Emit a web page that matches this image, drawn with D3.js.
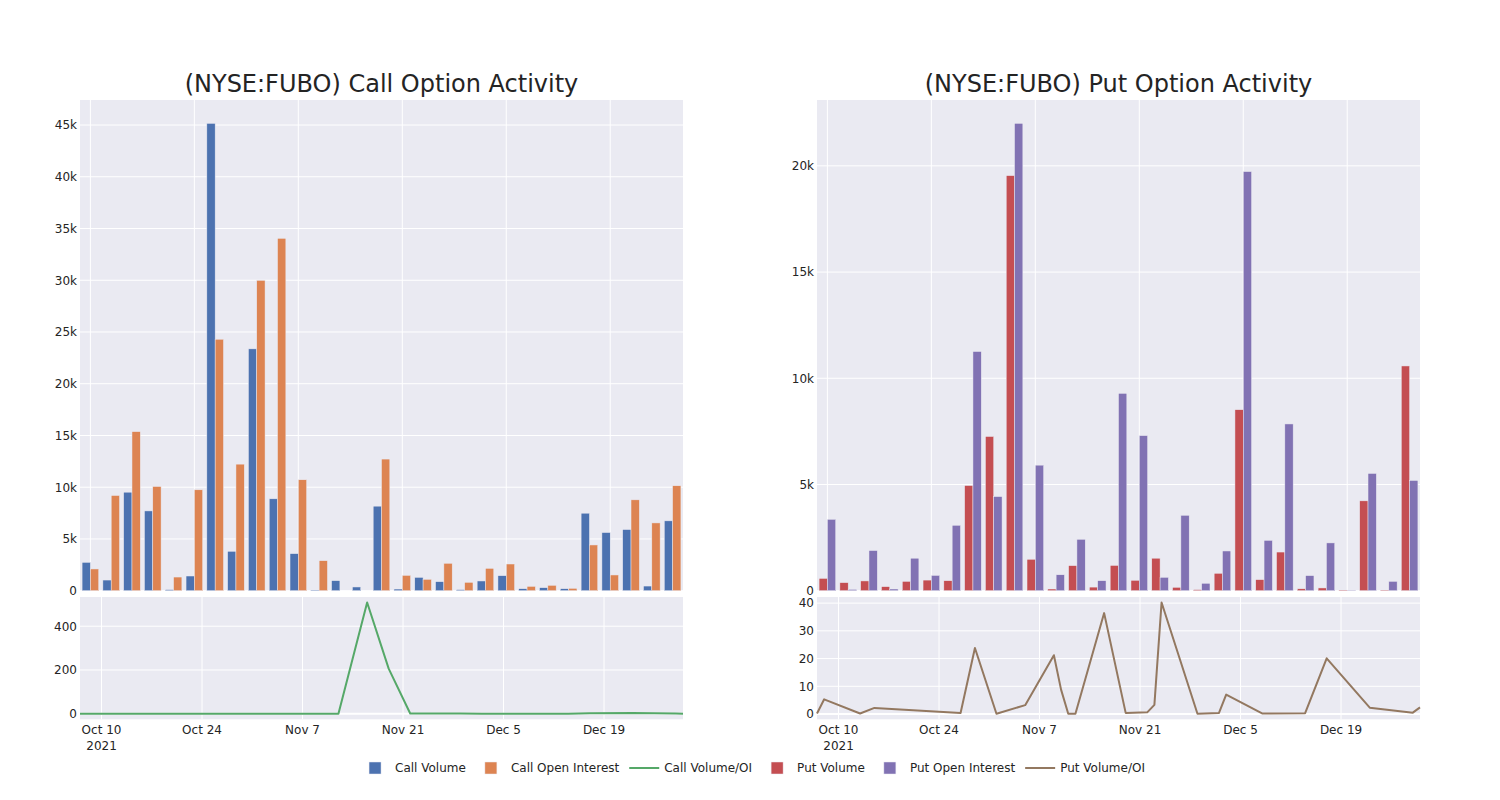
<!DOCTYPE html>
<html>
<head>
<meta charset="utf-8">
<script src="https://cdn.jsdelivr.net/npm/d3@7"></script>
<style>
  html, body { margin: 0; padding: 0; background: #fff; }
  svg { display: block; }
  text { font-family: "DejaVu Sans", Verdana, sans-serif; fill: rgb(36,36,36); }
</style>
</head>
<body>
<svg id="chart" width="1500" height="800"></svg>
<script>
// ---------------- DATA ----------------
const barCategories = ["1","2","3","4","5","6","7","8","9","10","11","12","13","14","15",
                       "16","17","18","19","20","21","22","23","24","25","26","27","28","29"];
const callVolume = [2740, 1030, 9520, 7710, 100, 1420, 45160, 3810, 23370, 8880, 3580, 60, 970, 360, 8170,
                    160, 1290, 870, 100, 940, 1450, 190, 290, 190, 7490, 5620, 5910, 450, 6750];
const callOpenInterest = [2100, 9200, 15370, 10070, 1320, 9750, 24300, 12230, 29990, 34050, 10720, 2900, 0, 0, 12720,
                          1480, 1100, 2650, 810, 2160, 2580, 420, 520, 230, 4420, 1520, 8780, 6550, 10140];
const putVolume = [580, 380, 460, 190, 440, 500, 470, 4950, 7260, 19540, 1480, 80, 1180, 170, 1190,
                   490, 1530, 160, 50, 820, 8520, 520, 1820, 90, 130, 30, 4230, 30, 10580];
const putOpenInterest = [3360, 60, 1890, 80, 1530, 720, 3080, 11260, 4430, 22000, 5910, 750, 2420, 470, 9290,
                         7300, 630, 3550, 350, 1870, 19730, 2370, 7850, 710, 2250, 20, 5520, 440, 5190];

const lineDates = ["2021-10-07","2021-10-08","2021-10-13","2021-10-15","2021-10-27","2021-10-29",
                   "2021-11-01","2021-11-05","2021-11-09","2021-11-10","2021-11-11","2021-11-12",
                   "2021-11-16","2021-11-19","2021-11-22","2021-11-23","2021-11-24","2021-11-29",
                   "2021-12-02","2021-12-03","2021-12-08","2021-12-14","2021-12-17","2021-12-23",
                   "2021-12-29","2021-12-30"];
const callVolOI = [0.5, 0.5, 0.3, 0.4, 0.2, 0.3, 0.2, 0.3, 0.2, 0.3, 0.2, 0.4,
                   508, 206, 1.5, 1.2, 1.0, 0.8, 0.6, 0.5, 0.4, 0.5, 2.5, 4.0, 0.8, 0.5];
const putVolOI = [0.2, 5.3, 0.2, 2.2, 0.4, 23.8, 0.1, 3.2, 21.2, 8.8, 0.1, 0.1,
                  36.4, 0.4, 0.6, 3.3, 40.2, 0.1, 0.4, 7.0, 0.2, 0.3, 20.1, 2.3, 0.5, 2.4];

const xTickDates = ["2021-10-10","2021-10-24","2021-11-07","2021-11-21","2021-12-05","2021-12-19"];
const titles = ["(NYSE:FUBO) Call Option Activity", "(NYSE:FUBO) Put Option Activity"];
const legendItems = [
  {name: "Call Volume", type: "bar", color: "rgb(76,114,176)"},
  {name: "Call Open Interest", type: "bar", color: "rgb(221,132,82)"},
  {name: "Call Volume/OI", type: "line", color: "rgb(85,168,104)"},
  {name: "Put Volume", type: "bar", color: "rgb(196,78,82)"},
  {name: "Put Open Interest", type: "bar", color: "rgb(129,114,179)"},
  {name: "Put Volume/OI", type: "line", color: "rgb(147,120,96)"}
];

// ---------------- LAYOUT ----------------
const svg = d3.select("#chart");
const BG = "rgb(234,234,242)";
const parse = d3.timeParse("%Y-%m-%d");
const fmtMonthDay = d3.timeFormat("%b %-d");

const panels = [
  {left: 80, right: 683, vol: callVolume, oi: callOpenInterest, ratio: callVolOI,
   barTickCount: 8, lineTickCount: 3,
   colors: ["rgb(76,114,176)", "rgb(221,132,82)"], lineColor: "rgb(85,168,104)", title: titles[0]},
  {left: 817, right: 1420, vol: putVolume, oi: putOpenInterest, ratio: putVolOI,
   barTickCount: 5, lineTickCount: 4,
   colors: ["rgb(196,78,82)", "rgb(129,114,179)"], lineColor: "rgb(147,120,96)", title: titles[1]}
];
const topY = [100, 590.7];
const botY = [597, 719.3];

panels.forEach(p => {
  const g = svg.append("g");

  // title
  g.append("text")
    .attr("x", (p.left + p.right) / 2).attr("y", 92)
    .attr("text-anchor", "middle").style("font-size", "24px")
    .text(p.title);

  // ---- bar subplot ----
  g.append("rect").attr("x", p.left).attr("y", topY[0])
    .attr("width", p.right - p.left).attr("height", topY[1] - topY[0]).attr("fill", BG);

  const xBand = d3.scaleBand().domain(barCategories).range([p.left, p.right]).paddingInner(0).paddingOuter(0);
  const inner = d3.scaleBand().domain([0, 1]).range([0, xBand.bandwidth() * 0.8]);
  const maxBar = d3.max(p.vol.concat(p.oi));
  const yBar = d3.scaleLinear().domain([0, maxBar * 1.05]).range([topY[1], topY[0]]);

  // grid
  const yBarTicks = yBar.ticks(p.barTickCount).filter(t => t <= yBar.domain()[1]);
  g.append("g").selectAll("line").data(yBarTicks).join("line")
    .attr("x1", p.left).attr("x2", p.right)
    .attr("y1", d => yBar(d)).attr("y2", d => yBar(d))
    .attr("stroke", "#fff").attr("stroke-width", 1);
  const gridCats = barCategories.filter((c, i) => i % 5 === 0);
  g.append("g").selectAll("line").data(gridCats).join("line")
    .attr("x1", d => xBand(d) + xBand.bandwidth() / 2).attr("x2", d => xBand(d) + xBand.bandwidth() / 2)
    .attr("y1", topY[0]).attr("y2", topY[1])
    .attr("stroke", "#fff").attr("stroke-width", 1);

  // bars
  const series = [p.vol, p.oi];
  series.forEach((vals, si) => {
    g.append("g").selectAll("rect").data(vals).join("rect")
      .attr("x", (d, i) => xBand(barCategories[i]) + xBand.bandwidth() * 0.1 + inner(si))
      .attr("width", inner.bandwidth())
      .attr("y", d => yBar(d))
      .attr("height", d => yBar(0) - yBar(d))
      .attr("fill", p.colors[si])
      .attr("stroke", BG).attr("stroke-width", 0.5);
  });

  // y axis labels
  const fmtK = d3.format("~s");
  g.append("g").selectAll("text").data(yBarTicks).join("text")
    .attr("x", p.left - 3).attr("y", d => yBar(d)).attr("dy", "0.36em")
    .attr("text-anchor", "end").style("font-size", "12px")
    .text(d => d === 0 ? "0" : fmtK(d));

  // ---- line subplot ----
  g.append("rect").attr("x", p.left).attr("y", botY[0])
    .attr("width", p.right - p.left).attr("height", botY[1] - botY[0]).attr("fill", BG);

  const dates = lineDates.map(parse);
  const xTime = d3.scaleTime().domain(d3.extent(dates)).range([p.left, p.right]);
  const ext = d3.extent(p.ratio);
  const pad = (ext[1] - ext[0]) * 0.05;
  const yLine = d3.scaleLinear().domain([ext[0] - pad, ext[1] + pad]).range([botY[1], botY[0]]);
  const yLineTicks = yLine.ticks(p.lineTickCount).filter(t => t >= yLine.domain()[0] && t <= yLine.domain()[1]);

  g.append("g").selectAll("line").data(yLineTicks).join("line")
    .attr("x1", p.left).attr("x2", p.right)
    .attr("y1", d => yLine(d)).attr("y2", d => yLine(d))
    .attr("stroke", "#fff").attr("stroke-width", d => d === 0 ? 2 : 1);
  const tickDates = xTickDates.map(parse);
  g.append("g").selectAll("line").data(tickDates).join("line")
    .attr("x1", d => xTime(d)).attr("x2", d => xTime(d))
    .attr("y1", botY[0]).attr("y2", botY[1])
    .attr("stroke", "#fff").attr("stroke-width", 1);

  const line = d3.line().x((d, i) => xTime(dates[i])).y(d => yLine(d));
  g.append("path").datum(p.ratio).attr("d", line)
    .attr("fill", "none").attr("stroke", p.lineColor).attr("stroke-width", 2)
    .attr("stroke-linejoin", "round");

  g.append("g").selectAll("text").data(yLineTicks).join("text")
    .attr("x", p.left - 3).attr("y", d => yLine(d)).attr("dy", "0.36em")
    .attr("text-anchor", "end").style("font-size", "12px")
    .text(d => d3.format(",")(d));

  // x tick labels
  g.append("g").selectAll("text").data(tickDates).join("text")
    .attr("x", d => xTime(d)).attr("y", 734)
    .attr("text-anchor", "middle").style("font-size", "12px")
    .text(d => fmtMonthDay(d));
  g.append("text").attr("x", xTime(tickDates[0])).attr("y", 750)
    .attr("text-anchor", "middle").style("font-size", "12px")
    .text(d3.timeFormat("%Y")(tickDates[0]));
});

// ---------------- LEGEND ----------------
const leg = svg.append("g");
let cursor = 0;
legendItems.forEach(it => {
  const ig = leg.append("g").attr("transform", `translate(${cursor},0)`);
  if (it.type === "bar") {
    ig.append("rect").attr("x", 14).attr("y", -6).attr("width", 12).attr("height", 12)
      .attr("fill", it.color).attr("stroke", BG).attr("stroke-width", 0.5);
  } else {
    ig.append("line").attr("x1", 5).attr("x2", 35).attr("y1", 0).attr("y2", 0)
      .attr("stroke", it.color).attr("stroke-width", 2);
  }
  const t = ig.append("text").attr("x", 40).attr("y", 0).attr("dy", "0.36em")
    .style("font-size", "12px").text(it.name);
  const w = t.node().getComputedTextLength();
  cursor += 40 + w + 5;
});
const totalW = cursor - 5;
leg.attr("transform", `translate(${750 - totalW / 2},768)`);
</script>
</body>
</html>
